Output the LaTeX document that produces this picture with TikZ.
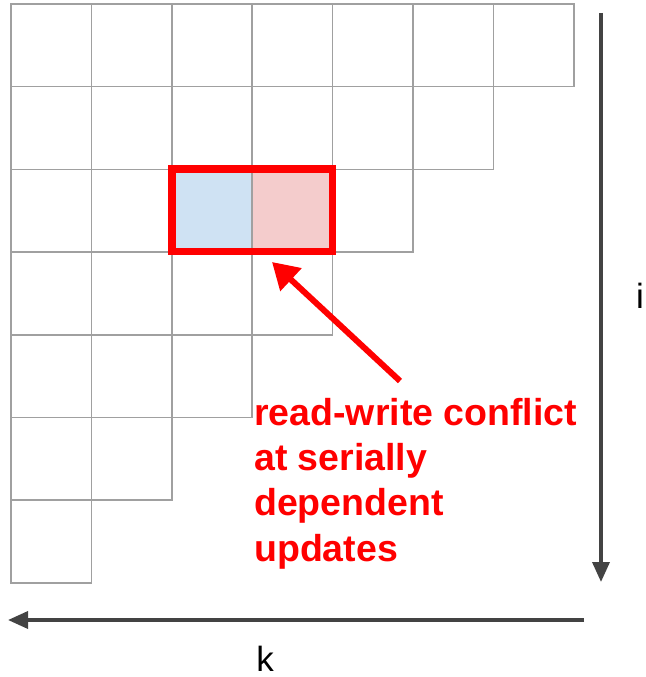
\documentclass[tikz,border=0pt]{standalone}
\usepackage{fontspec}
\setmainfont{Liberation Sans}
\usetikzlibrary{positioning}
\usetikzlibrary{arrows.meta}
\definecolor{gridColor}{RGB}{160,160,160}
\definecolor{axisColor}{RGB}{67,67,67}
\definecolor{readColor}{RGB}{207,226,243}
\definecolor{writeColor}{RGB}{244,204,204}
\definecolor{conflictColor}{rgb}{1,0,0}

\begin{document}
\begin{tikzpicture}[x=1pt,y=-1pt]

          \tikzstyle{cellEdge} = [gridColor, line width=1.5pt];
          \tikzstyle{axisEdge} = [axisColor, line width=3.5pt, -{Triangle[length=20pt,width=17pt]}];
          \tikzstyle{focusEdge} = [conflictColor, line width=6pt, -{Triangle[length=26pt,width=30pt]}];
          \tikzstyle{axisNode} = [black, inner sep=0pt, font=\fontsize{35}{40}\selectfont];
          \tikzstyle{focusNode} = [conflictColor, align=left, inner sep=0pt,
            font=\fontsize{37.5}{45.3}\selectfont\bfseries];

          \useasboundingbox (0,0) rectangle (645,677);

          % triangular grid
          \fill[readColor] (172,169) rectangle (252,251.5);
          \fill[writeColor] (252,169) rectangle (332.5,251.5);
          \foreach \r in {0,...,6}
            \foreach \c in {0,...,\numexpr6-\r\relax}
              \draw[cellEdge] (11+80.4*\c,4+82.7*\r) rectangle (11+80.4*\c+80.4,4+82.7*\r+82.7);
          \draw[conflictColor, line width=7.5pt] (172,169) rectangle (332.5,251.5);

          \node[focusNode, anchor=north west] (note) at (254,398)
            {read-write conflict\\at serially\\dependent\\updates};
          \coordinate (pair) at (272,262);
          \draw[focusEdge] (400,381) -- (pair);

          \coordinate (iStart) at (601,13);
          \coordinate (iEnd) at (601,582);
          \coordinate (kStart) at (584,620);
          \coordinate (kEnd) at (8,620);
          \draw[axisEdge] (iStart) -- (iEnd);
          \draw[axisEdge] (kStart) -- (kEnd);
          \node[axisNode, anchor=base] (i) at (640,308) {i};
          \node[axisNode, anchor=base] (k) at (265,671) {k};
        \end{tikzpicture}
\end{document}
